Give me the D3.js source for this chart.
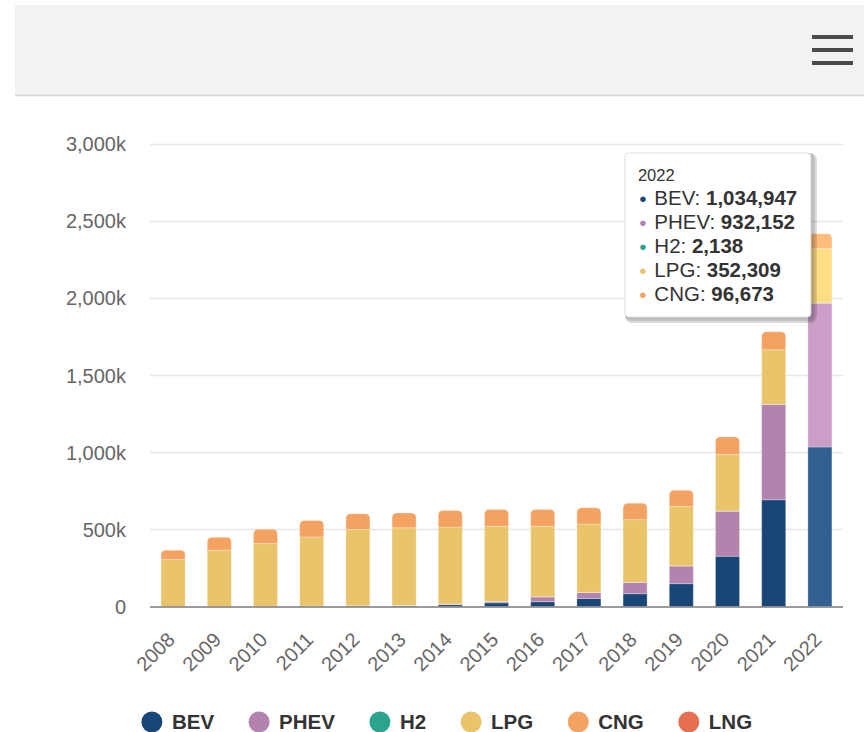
<!DOCTYPE html>
<html>
<head>
<meta charset="utf-8">
<script src="https://cdn.jsdelivr.net/npm/d3@7"></script>
<style>
  body { margin: 0; background: #fff; }
  svg { display: block; font-family: "Lucida Grande", "Lucida Sans Unicode", Arial, Helvetica, sans-serif; }
</style>
</head>
<body>
<div id="chart-area"></div>
<script>
// data
var years = [2008, 2009, 2010, 2011, 2012, 2013, 2014, 2015, 2016, 2017, 2018, 2019, 2020, 2021, 2022];
var bev  = [300, 400, 900, 2500, 4500, 6000, 12000, 24000, 31000, 52000, 83000, 148000, 326000, 692000, 1034947];
var phev = [0, 0, 100, 300, 600, 1500, 4000, 9000, 32000, 39000, 74000, 115000, 292000, 618000, 932152];
var h2   = [10, 10, 20, 30, 40, 60, 100, 150, 200, 300, 500, 800, 1200, 1800, 2138];
var lpg  = [305000, 365000, 407000, 448000, 494000, 503000, 499000, 487000, 457000, 444000, 406000, 385000, 366000, 353000, 352309];
var cng  = [60000, 83000, 93000, 107000, 102000, 96000, 107000, 109000, 109000, 105000, 107000, 105000, 115000, 117000, 96673];
var lng  = [null, null, null, null, null, null, null, null, null, null, null, null, null, null, null];
var seriesNames = ["BEV", "PHEV", "H2", "LPG", "CNG", "LNG"];
var seriesColors = ["#184677", "#b283ad", "#2aa38f", "#e9c46a", "#f4a261", "#e76f51"];
var yTicks = [0, 500000, 1000000, 1500000, 2000000, 2500000, 3000000];
var hoverYear = 2022;

var seriesValues = [bev, phev, h2, lpg, cng, lng];

var width = 864, height = 732;
var plot = {left: 150, right: 843, top: 144, bottom: 606.5};

var svg = d3.select("#chart-area").append("svg")
    .attr("width", width)
    .attr("height", height);

// header bar with menu button
svg.append("rect")
  .attr("x", 15).attr("y", 5)
  .attr("width", width - 15).attr("height", 90)
  .attr("fill", "#f2f2f2");
svg.append("line")
  .attr("x1", 15).attr("x2", width)
  .attr("y1", 95.5).attr("y2", 95.5)
  .attr("stroke", "#d6d6d6").attr("stroke-width", 1.5);
[37, 50, 63].forEach(function(cy) {
  svg.append("rect")
    .attr("x", 812).attr("y", cy - 2)
    .attr("width", 41).attr("height", 4)
    .attr("fill", "#4a4a4a");
});

// scales
var x = d3.scaleBand()
  .domain(years)
  .range([plot.left, plot.right])
  .paddingInner(0.48)
  .paddingOuter(0.24);

var y = d3.scaleLinear()
  .domain([0, 3000000])
  .range([plot.bottom, plot.top]);

var g = svg.append("g");

// grid lines
g.selectAll(".grid")
  .data(yTicks.slice(1))
  .enter().append("line")
    .attr("class", "grid")
    .attr("x1", plot.left).attr("x2", plot.right)
    .attr("y1", d => Math.round(y(d)) + 0.5)
    .attr("y2", d => Math.round(y(d)) + 0.5)
    .attr("stroke", "#e6e6e6")
    .attr("stroke-width", 1.5);

// Y axis labels
var yAxisCall = d3.axisLeft(y)
  .tickValues(yTicks)
  .tickSize(0)
  .tickPadding(0)
  .tickFormat(d => d === 0 ? "0" : d3.format(",")(d / 1000) + "k");
var yAxisGroup = g.append("g")
  .attr("transform", "translate(126,0)")
  .call(yAxisCall);
yAxisGroup.select(".domain").remove();
yAxisGroup.selectAll("text")
  .attr("fill", "#666")
  .attr("font-size", "20px")
  .attr("dy", "0.34em")
  .attr("font-family", "inherit");

// stacked data
var table = years.map(function(yr, i) {
  var row = {year: yr};
  seriesNames.forEach(function(n, s) { row[n] = seriesValues[s][i] || 0; });
  return row;
});
var stack = d3.stack().keys(seriesNames)(table);

// index of the top non-empty segment per year
var topIdx = years.map(function(yr, i) {
  var t = 0;
  seriesValues.forEach(function(v, s) { if (v[i]) t = s; });
  return t;
});

function segPath(x0, w, yTop, yBot, round) {
  var r = round ? Math.min(5, (yBot - yTop) / 2, w / 2) : 0;
  return "M" + x0 + "," + yBot +
    "V" + (yTop + r) +
    (r ? "Q" + x0 + "," + yTop + " " + (x0 + r) + "," + yTop : "") +
    "H" + (x0 + w - r) +
    (r ? "Q" + (x0 + w) + "," + yTop + " " + (x0 + w) + "," + (yTop + r) : "") +
    "V" + yBot + "Z";
}

function brighten(c, amt) {
  var col = d3.rgb(c);
  return d3.rgb(
    Math.min(255, col.r + 255 * amt),
    Math.min(255, col.g + 255 * amt),
    Math.min(255, col.b + 255 * amt)).formatHex();
}

var layers = g.selectAll(".layer")
  .data(stack)
  .enter().append("g")
    .attr("class", "layer");

layers.selectAll("path")
  .data((d, s) => d.map((p, i) => ({p: p, s: s, i: i})).filter(e => e.p[1] - e.p[0] > 0))
  .enter().append("path")
    .attr("d", e => segPath(x(years[e.i]), x.bandwidth(), y(e.p[1]), y(e.p[0]), topIdx[e.i] === e.s))
    .attr("fill", e => years[e.i] === hoverYear ? brighten(seriesColors[e.s], 0.1) : seriesColors[e.s])
    .attr("stroke", "rgba(255,255,255,0.35)")
    .attr("stroke-width", 0.8);

// X axis line
g.append("line")
  .attr("x1", plot.left).attr("x2", plot.right)
  .attr("y1", plot.bottom + 0.5).attr("y2", plot.bottom + 0.5)
  .attr("stroke", "#7a7a7a")
  .attr("stroke-width", 1.5);

// X labels, rotated
g.selectAll(".xlab")
  .data(years)
  .enter().append("text")
    .attr("class", "xlab")
    .attr("transform", d => "translate(" + (x(d) + x.bandwidth() / 2 + 3) + ",641) rotate(-45)")
    .attr("text-anchor", "end")
    .attr("font-size", "20px")
    .attr("fill", "#666")
    .text(d => d);

// legend
var legend = svg.append("g");
var lx = 0, gap = 35;
seriesNames.forEach(function(n, s) {
  var item = legend.append("g").attr("transform", "translate(" + lx + ",0)");
  item.append("circle")
    .attr("cx", 10).attr("cy", 0).attr("r", 10.5)
    .attr("fill", seriesColors[s]);
  var t = item.append("text")
    .attr("x", 30).attr("y", 0).attr("dy", "0.35em")
    .attr("font-size", "20.5px")
    .attr("font-weight", "bold")
    .attr("fill", "#333")
    .text(n);
  lx += 30 + t.node().getComputedTextLength() + gap;
});
lx -= gap;
legend.attr("transform", "translate(" + (447 - lx / 2) + ",722)");

// tooltip for the hovered year
var hi = years.indexOf(hoverYear);
var tipW = 186, tipH = 164;
var tipX = x(hoverYear) + 3 - tipW, tipY = 153;
var tip = svg.append("g").attr("transform", "translate(" + tipX + "," + tipY + ")");
[3, 2, 1].forEach(function(o) {
  tip.append("rect")
    .attr("x", o).attr("y", o)
    .attr("width", tipW).attr("height", tipH)
    .attr("rx", 4)
    .attr("fill", "none")
    .attr("stroke", "#000")
    .attr("stroke-opacity", 0.05 * o)
    .attr("stroke-width", 2 * o);
});
tip.append("rect")
  .attr("width", tipW).attr("height", tipH)
  .attr("rx", 4)
  .attr("fill", "#fff")
  .attr("stroke", "#e0e0e0");
tip.append("text")
  .attr("x", 13).attr("y", 28)
  .attr("font-size", "16.5px")
  .attr("fill", "#333")
  .text(hoverYear);
var line = 0;
seriesNames.forEach(function(n, s) {
  var v = seriesValues[s][hi];
  if (v == null) return;
  var ty = 52 + line * 24;
  var t = tip.append("text")
    .attr("x", 14).attr("y", ty)
    .attr("font-size", "20.5px")
    .attr("fill", "#333");
  t.append("tspan").attr("fill", seriesColors[s]).attr("font-size", "13px").attr("dy", "-2").text("\u25CF ");
  t.append("tspan").attr("dy", "2").attr("dx", "4").text(n + ": ");
  t.append("tspan").attr("font-weight", "bold").text(d3.format(",")(v));
  line++;
});
</script>
</body>
</html>
